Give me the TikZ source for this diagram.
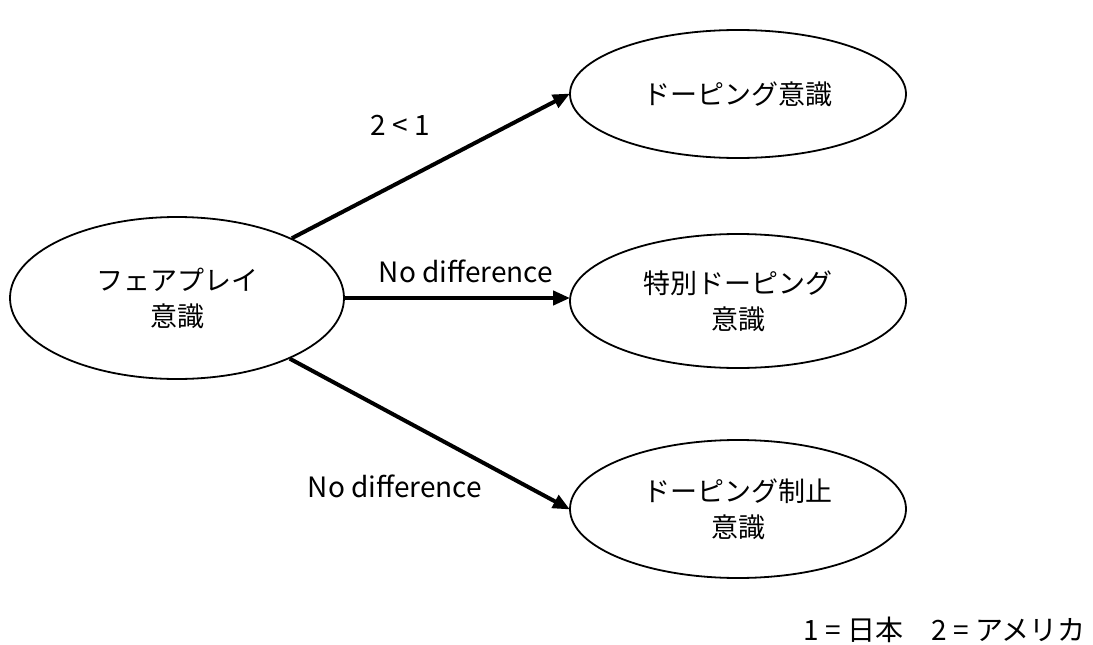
\documentclass[tikz,border=0pt]{standalone}
\usepackage{fontspec}
\setmainfont{Noto Sans CJK JP}
\usetikzlibrary{shapes.geometric,arrows.meta}
\begin{document}
\begin{tikzpicture}[x=1pt,y=-1pt,
  oval/.style={draw,ellipse,line width=1.8pt,minimum width=#1,align=center,font=\fontsize{27}{36}\selectfont,inner sep=0pt},
  conn/.style={line width=4pt,-{Triangle[length=17pt,width=14pt]},shorten >=-1pt},
  lbl/.style={font=\fontsize{28}{34}\selectfont,inner sep=0pt}]
\useasboundingbox (0,0) rectangle (1093,645);
\node[oval=334pt,minimum height=162pt] (L) at (177,298) {フェアプレイ\\意識};
\node[oval=336pt,minimum height=128pt] (T) at (738,94) {ドーピング意識};
\node[oval=336pt,minimum height=134pt] (M) at (738,301) {特別ドーピング\\意識};
\node[oval=336pt,minimum height=138pt] (B) at (738,509) {ドーピング制止\\意識};
\draw[conn] (L) -- (T.west);
\draw[conn] (L.east) -- (L.east -| M.west);
\draw[conn] (L) -- (B.west);
\node[lbl] (l1) at (400,125) {2 < 1};
\node[lbl] (l2) at (466,271) {No difference};
\node[lbl] (l3) at (395,486) {No difference};
\node[lbl,anchor=east] (foot) at (1086,630) {1 = 日本　2 = アメリカ};
\end{tikzpicture}
\end{document}
